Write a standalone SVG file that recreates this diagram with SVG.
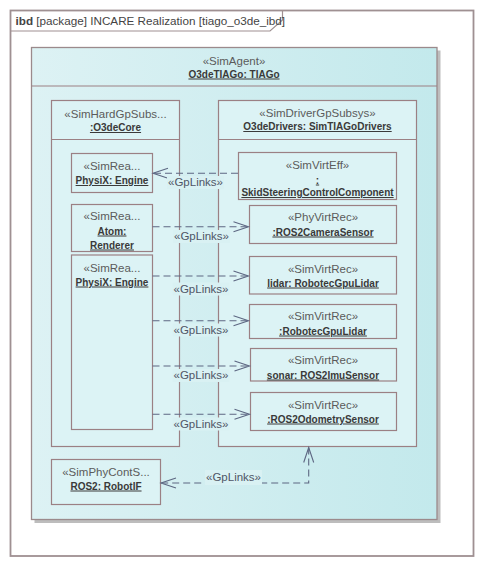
<svg xmlns="http://www.w3.org/2000/svg" width="484" height="567" viewBox="0 0 484 567">
<defs>
<linearGradient id="agentGrad" x1="0" y1="0" x2="1" y2="0">
<stop offset="0" stop-color="#ddf2f4"/>
<stop offset="1" stop-color="#c3e9ec"/>
</linearGradient>
<style>
.frame{fill:#ffffff;stroke:#9f9092;stroke-width:1.8}
.tab{fill:none;stroke:#9f9092;stroke-width:1.2}
.box{fill:#dcf3f5;stroke:#9b8084;stroke-width:1.2}
.agent{fill:url(#agentGrad);stroke:#9b8a8c;stroke-width:1.3}
.shadow{fill:#bdbdbd}
.sep{stroke:#9b8084;stroke-width:1.2}
.st{font-family:"Liberation Sans",Arial,sans-serif;font-size:11.5px;fill:#5b5b5b;text-anchor:middle}
.nm{font-family:"Liberation Sans",Arial,sans-serif;font-size:10px;font-weight:bold;fill:#3a3a3a;text-anchor:middle;text-decoration:underline}
.hdr{font-family:"Liberation Sans",Arial,sans-serif;font-size:11.7px;fill:#444}
.conn{fill:none;stroke:#5d6782;stroke-width:1.1;stroke-dasharray:7,4}
.ah{fill:none;stroke:#5d6782;stroke-width:1.1}
.lblbg{fill:#d9f1f3}
.lbl{font-family:"Liberation Sans",Arial,sans-serif;font-size:11.5px;fill:#4f5566;text-anchor:middle}
</style>
</defs>

<g id="frame">
<rect class="frame" x="10.5" y="10.5" width="463" height="545.5"/>
<path class="tab" d="M10.5,31 H270 L282.5,20 V10.5"/>
<text class="hdr" x="15.5" y="24.5"><tspan font-weight="bold">ibd</tspan> [package] INCARE Realization [tiago_o3de_ibd]</text>
</g>

<g id="O3deTIAGo">
<rect class="shadow" x="34.5" y="50.5" width="406" height="472.5"/>
<rect class="agent" x="31.5" y="47.5" width="405.5" height="472"/>
<line class="sep" x1="31.5" y1="86" x2="437" y2="86"/>
<text class="st" x="234" y="64.5">«SimAgent»</text>
<text class="nm" x="234" y="77.5">O3deTIAGo: TIAGo</text>
</g>

<g id="O3deCore">
<rect class="box" x="51.5" y="100.5" width="128" height="346"/>
<line class="sep" x1="51.5" y1="139.5" x2="179.5" y2="139.5"/>
<text class="st" x="115.5" y="117.5">«SimHardGpSubs...</text>
<text class="nm" x="115.5" y="131">:O3deCore</text>
</g>

<g id="O3deDrivers">
<rect class="box" x="218.5" y="100.5" width="198" height="346"/>
<line class="sep" x1="218.5" y1="139.5" x2="416.5" y2="139.5"/>
<text class="st" x="317.5" y="116.5">«SimDriverGpSubsys»</text>
<text class="nm" x="317.5" y="130">O3deDrivers: SimTIAGoDrivers</text>
</g>

<g id="PhysiXEngine1">
<rect class="box" x="71.5" y="153.5" width="81" height="39"/>
<text class="st" x="112" y="170">«SimRea...</text>
<text class="nm" x="112" y="184">PhysiX: Engine</text>
</g>

<g id="AtomRenderer">
<rect class="box" x="71.5" y="204.5" width="81" height="47"/>
<text class="st" x="112" y="220">«SimRea...</text>
<text class="nm" x="112" y="234.5">Atom:</text>
<text class="nm" x="112" y="248.5">Renderer</text>
</g>

<g id="PhysiXEngine2">
<rect class="box" x="71.5" y="255" width="81" height="174.5"/>
<text class="st" x="112" y="271.5">«SimRea...</text>
<text class="nm" x="112" y="285.5">PhysiX: Engine</text>
</g>

<g id="SkidSteeringControlComponent">
<rect class="box" x="238.5" y="152.5" width="158" height="47"/>
<text class="st" x="317.5" y="168.5">«SimVirtEff»</text>
<text class="nm" x="317.5" y="183.5">:</text>
<text class="nm" x="317.5" y="196">SkidSteeringControlComponent</text>
</g>

<g id="ROS2CameraSensor">
<rect class="box" x="249.5" y="205.5" width="147" height="38"/>
<text class="st" x="323" y="221">«PhyVirtRec»</text>
<text class="nm" x="323" y="235.5">:ROS2CameraSensor</text>
</g>

<g id="lidar">
<rect class="box" x="249.5" y="256.5" width="147" height="37.5"/>
<text class="st" x="323" y="272.5">«SimVirtRec»</text>
<text class="nm" x="323" y="286.5">lidar: RobotecGpuLidar</text>
</g>

<g id="RobotecGpuLidar">
<rect class="box" x="249.5" y="304.5" width="147" height="34"/>
<text class="st" x="323" y="320">«SimVirtRec»</text>
<text class="nm" x="323" y="334.5">:RobotecGpuLidar</text>
</g>

<g id="sonar">
<rect class="box" x="250.5" y="348.5" width="146" height="32.5"/>
<text class="st" x="323" y="364">«SimVirtRec»</text>
<text class="nm" x="323" y="378.5">sonar: ROS2ImuSensor</text>
</g>

<g id="ROS2OdometrySensor">
<rect class="box" x="250.5" y="392.5" width="146" height="38"/>
<text class="st" x="323" y="408.5">«SimVirtRec»</text>
<text class="nm" x="323" y="422.5">:ROS2OdometrySensor</text>
</g>

<g id="ROS2RobotIF">
<rect class="box" x="51.5" y="459.5" width="109" height="45"/>
<text class="st" x="106" y="475.5">«SimPhyContS...</text>
<text class="nm" x="106" y="489.5">ROS2: RobotIF</text>
</g>

<g id="connectors">
<line class="conn" x1="238" y1="173.3" x2="153" y2="173.3"/>
<polyline class="ah" points="168,168.3 153,173.3 168,178.3"/>
<rect class="lblbg" x="167" y="176" width="57" height="13"/>
<text class="lbl" x="195.5" y="186">«GpLinks»</text>

<line class="conn" x1="152.5" y1="226.7" x2="248.5" y2="226.7"/>
<polyline class="ah" points="233.5,221.7 248.5,226.7 233.5,231.7"/>
<rect class="lblbg" x="173" y="230" width="57" height="13"/>
<text class="lbl" x="201.5" y="240">«GpLinks»</text>

<line class="conn" x1="152.5" y1="276" x2="248.5" y2="276"/>
<polyline class="ah" points="233.5,271 248.5,276 233.5,281"/>
<rect class="lblbg" x="172.5" y="282.5" width="57" height="13"/>
<text class="lbl" x="201" y="292.5">«GpLinks»</text>

<line class="conn" x1="152.5" y1="320.7" x2="248.5" y2="320.7"/>
<polyline class="ah" points="233.5,315.7 248.5,320.7 233.5,325.7"/>
<rect class="lblbg" x="172.5" y="323.5" width="57" height="13"/>
<text class="lbl" x="201" y="333.5">«GpLinks»</text>

<line class="conn" x1="152.5" y1="366" x2="249.5" y2="366"/>
<polyline class="ah" points="234.5,361 249.5,366 234.5,371"/>
<rect class="lblbg" x="172.5" y="369" width="57" height="13"/>
<text class="lbl" x="201" y="379">«GpLinks»</text>

<line class="conn" x1="152.5" y1="414.3" x2="249.5" y2="414.3"/>
<polyline class="ah" points="234.5,409.3 249.5,414.3 234.5,419.3"/>
<rect class="lblbg" x="172.5" y="417.5" width="57" height="13"/>
<text class="lbl" x="201" y="427.5">«GpLinks»</text>

<polyline class="conn" points="308.7,447.5 308.7,483 161,483"/>
<polyline class="ah" points="303.7,462.5 308.7,447.5 313.7,462.5"/>
<polyline class="ah" points="176,478 161,483 176,488"/>
<rect class="lblbg" x="205" y="470" width="57" height="15"/>
<text class="lbl" x="233.5" y="480.5">«GpLinks»</text>
</g>
</svg>
